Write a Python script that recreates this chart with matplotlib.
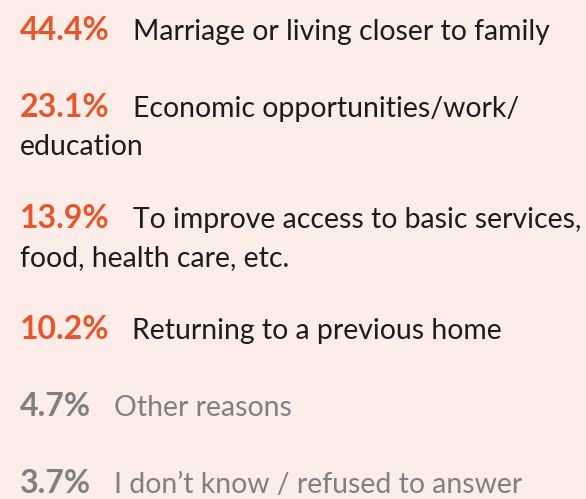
import matplotlib
matplotlib.use("Agg")
import matplotlib.pyplot as plt

# shares of reasons for moving
pcts = ["44.4%", "23.1%", "13.9%", "10.2%", "4.7%", "3.7%"]
first_lines = ["Marriage or living closer to family",
               "Economic opportunities/work/",
               "To improve access to basic services,",
               "Returning to a previous home",
               "Other reasons",
               "I don\u2019t know / refused to answer"]
second_lines = ["", "education", "food, health care, etc.", "", "", ""]
highlight = [True, True, True, True, False, False]

bg = "#fcede9"
orange = "#e8552a"
grey = "#808080"
dark = "#1c1c1c"

plt.rcParams["font.family"] = ["Lato", "DejaVu Sans"]

fig = plt.figure(figsize=(5.86, 4.99), dpi=100, facecolor=bg)
ax = fig.add_axes([0, 0, 1, 1])
ax.set_facecolor(bg)
ax.set_xlim(0, 586)
ax.set_ylim(499, 0)
ax.axis("off")

fs = 20.4
x0 = 20
y = 40
renderer = fig.canvas.get_renderer()
for p, l1, l2, hi in zip(pcts, first_lines, second_lines, highlight):
    pc = orange if hi else grey
    tc = dark if hi else grey
    t = ax.text(x0, y, p, fontsize=23, fontweight="bold", color=pc,
                va="baseline")
    bb = t.get_window_extent(renderer)
    xr = ax.transData.inverted().transform((bb.x1, 0))[0]
    ax.text(xr + 23, y, l1, fontsize=fs, color=tc, va="baseline")
    if l2:
        y += 38
        ax.text(x0, y, l2, fontsize=fs, color=tc, va="baseline")
        y += 73
    else:
        y += 77

fig.savefig("out.png", dpi=100, facecolor=bg)
